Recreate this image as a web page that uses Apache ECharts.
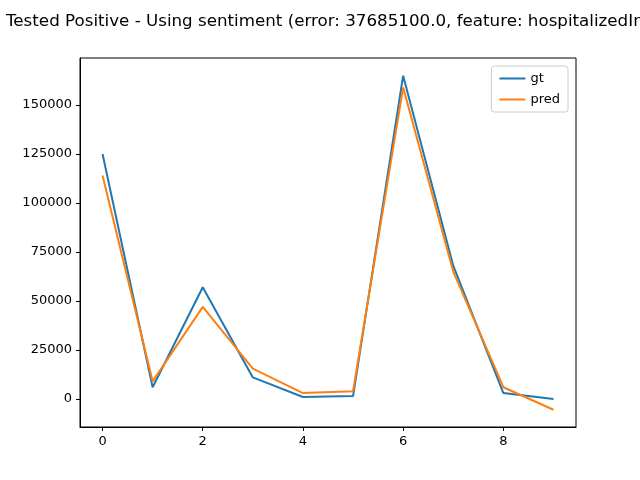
<!DOCTYPE html>
<html>
<head>
<meta charset="utf-8">
<script src="https://cdn.jsdelivr.net/npm/echarts@6/dist/echarts.min.js"></script>
<style>html,body{margin:0;padding:0;background:#fff}#main{width:640px;height:480px}</style>
</head>
<body>
<div id="main"></div>
<script>
var xs = [0, 1, 2, 3, 4, 5, 6, 7, 8, 9];
var gt = [125000, 6000, 57000, 11000, 1000, 1500, 165000, 68000, 3000, 0];
var pred = [114000, 9000, 47000, 15500, 3000, 4000, 159000, 65000, 6000, -5500];
var xTicks = [0, 2, 4, 6, 8];
var yTicks = [0, 25000, 50000, 75000, 100000, 125000, 150000];

function pairs(v) { return xs.map(function (x, i) { return [x, v[i]]; }); }

var chart = echarts.init(document.getElementById('main'));
chart.setOption({
    animation: false,
    title: {
        text: 'Tested Positive - Using sentiment (error: 37685100.0, feature: hospitalizedIncrease)',
        left: 1, top: 8,
        textStyle: {fontFamily: 'DejaVu Sans', fontSize: 16.7, fontWeight: 'normal', color: '#000'}
    },
    grid: {left: 80, right: 64, top: 58, bottom: 53, show: true, borderColor: '#000', borderWidth: 1},
    legend: {
        right: 72, top: 66, orient: 'vertical', itemWidth: 26, itemHeight: 2, itemGap: 8,
        padding: [6, 8], borderColor: '#ccc', borderWidth: 1, borderRadius: 3,
        textStyle: {fontFamily: 'DejaVu Sans', fontSize: 13, color: '#000'},
        icon: 'rect', data: ['gt', 'pred']
    },
    xAxis: {
        type: 'value', min: -0.45, max: 9.45,
        axisLine: {onZero: false, lineStyle: {color: '#000'}},
        axisTick: {show: true, customValues: xTicks, length: 4, lineStyle: {color: '#000'}},
        axisLabel: {customValues: xTicks, fontFamily: 'DejaVu Sans', fontSize: 13, color: '#000'},
        splitLine: {show: false}
    },
    yAxis: {
        type: 'value', min: -14300, max: 174000,
        axisLine: {show: true, onZero: false, lineStyle: {color: '#000'}},
        axisTick: {show: true, customValues: yTicks, length: 4, lineStyle: {color: '#000'}},
        axisLabel: {customValues: yTicks, formatter: function (v) { return String(v); },
            fontFamily: 'DejaVu Sans', fontSize: 13, color: '#000'},
        splitLine: {show: false}
    },
    series: [
        {name: 'gt', type: 'line', data: pairs(gt), showSymbol: false, lineStyle: {width: 2, color: '#1f77b4'}, itemStyle: {color: '#1f77b4'}},
        {name: 'pred', type: 'line', data: pairs(pred), showSymbol: false, lineStyle: {width: 2, color: '#ff7f0e'}, itemStyle: {color: '#ff7f0e'}}
    ]
});
</script>
</body>
</html>
